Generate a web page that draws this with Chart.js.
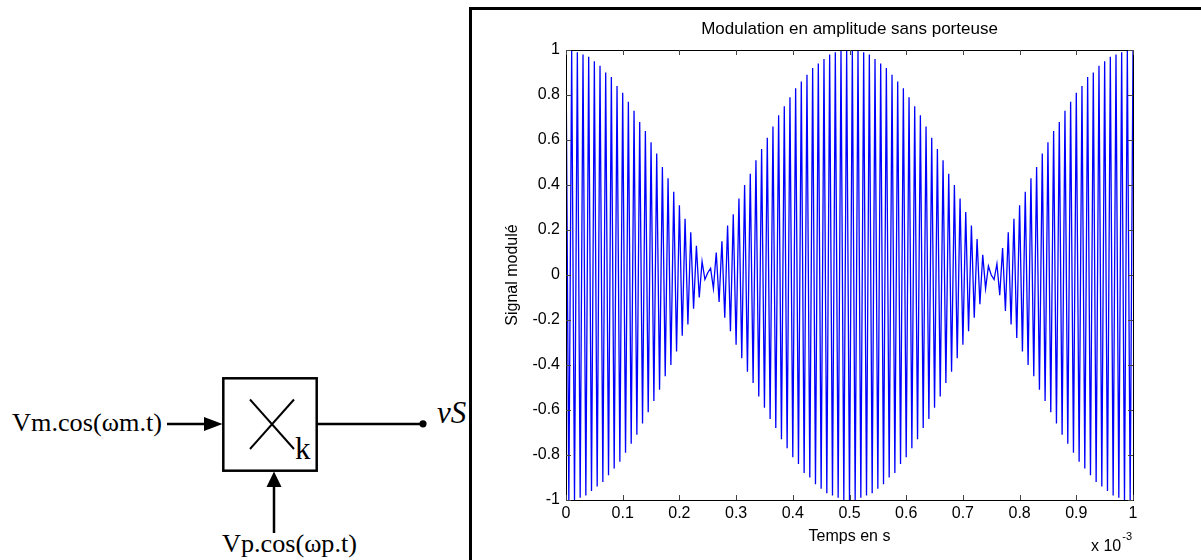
<!DOCTYPE html>
<html><head><meta charset="utf-8">
<script src="https://cdn.jsdelivr.net/npm/chart.js@4.4.0/dist/chart.umd.min.js"></script>
<style>
html,body{margin:0;padding:0;background:#fff;width:1201px;height:560px;overflow:hidden;}
#wrap{position:relative;width:1201px;height:560px;}
#diagram{position:absolute;left:0;top:0;}
#frame{position:absolute;left:469px;top:7px;right:0;bottom:0;border-left:3px solid #000;border-top:3px solid #000;}
#c{position:absolute;left:0;top:0;}
</style></head>
<body><div id="wrap">
<svg id="diagram" width="470" height="560" xmlns="http://www.w3.org/2000/svg">
  <g font-family="'Liberation Serif','Times New Roman',serif" fill="#000">
    <text x="12" y="431" font-size="26" textLength="150" lengthAdjust="spacingAndGlyphs">Vm.cos(ωm.t)</text>
    <text x="222" y="552" font-size="26" textLength="135" lengthAdjust="spacingAndGlyphs">Vp.cos(ωp.t)</text>
    <text x="295" y="459" font-size="31">k</text>
    <text x="437" y="423" font-size="31" font-style="italic">vS</text>
  </g>
  <g stroke="#000" fill="none">
    <line x1="167" y1="424" x2="207" y2="424" stroke-width="2.5"/>
    <rect x="223.3" y="378.3" width="93.4" height="92.4" stroke-width="2.5"/>
    <line x1="250" y1="399.5" x2="294" y2="449" stroke-width="2"/>
    <line x1="294" y1="399.5" x2="250" y2="449" stroke-width="2"/>
    <line x1="317" y1="424" x2="421" y2="424" stroke-width="2.5"/>
    <line x1="274" y1="533" x2="274" y2="485" stroke-width="2.5"/>
  </g>
  <g fill="#000" stroke="none">
    <polygon points="204,417 222.5,424 204,431"/>
    <polygon points="266.5,487 274,471.5 281.5,487"/>
    <circle cx="423" cy="423.8" r="3.6"/>
  </g>
</svg>
<div id="frame"></div>
<canvas id="c" width="1201" height="560"></canvas>
</div>
<script>
// ---- data ----
const chartTitle = "Modulation en amplitude sans porteuse";
const xAxisTitle = "Temps en s";
const yAxisTitle = "Signal modulé";
const xTickValues = [0, 0.1, 0.2, 0.3, 0.4, 0.5, 0.6, 0.7, 0.8, 0.9, 1];
const xTickLabels = ["0", "0.1", "0.2", "0.3", "0.4", "0.5", "0.6", "0.7", "0.8", "0.9", "1"];
const yTickValues = [1, 0.8, 0.6, 0.4, 0.2, 0, -0.2, -0.4, -0.6, -0.8, -1];
const yTickLabels = ["1", "0.8", "0.6", "0.4", "0.2", "0", "-0.2", "-0.4", "-0.6", "-0.8", "-1"];
const xExponentLabel = "x 10";
const xExponent = "-3";
// time between successive extremes (ms, i.e. x 10^-3 s)
const timeStep = 0.005;
// successive extreme values of the modulated signal (one per half carrier period)
const signalValues = [
  1.00, -1.00, 1.00, -1.00, 0.99, -0.99, 0.98, -0.98, 0.97, -0.96, 0.95,
  -0.94, 0.93, -0.92, 0.90, -0.89, 0.88, -0.86, 0.84, -0.83, 0.81,
  -0.79, 0.77, -0.75, 0.73, -0.71, 0.68, -0.66, 0.64, -0.61, 0.59,
  -0.56, 0.54, -0.51, 0.48, -0.45, 0.43, -0.40, 0.37, -0.34, 0.31,
  -0.27, 0.25, -0.22, 0.19, -0.15, 0.13, -0.10, 0.06, -0.02, 0.01,
  0.03, -0.06, 0.10, -0.12, 0.15, -0.19, 0.22, -0.25, 0.27, -0.31,
  0.34, -0.37, 0.40, -0.43, 0.45, -0.48, 0.51, -0.54, 0.56, -0.59,
  0.61, -0.64, 0.66, -0.68, 0.71, -0.73, 0.75, -0.77, 0.79, -0.81,
  0.83, -0.84, 0.86, -0.88, 0.89, -0.90, 0.92, -0.93, 0.94, -0.95,
  0.96, -0.97, 0.98, -0.98, 0.99, -0.99, 1.00, -1.00, 1.00, -1.00,
  1.00, -1.00, 1.00, -0.99, 0.99, -0.98, 0.98, -0.97, 0.96, -0.95,
  0.94, -0.93, 0.92, -0.90, 0.89, -0.88, 0.86, -0.84, 0.83, -0.81,
  0.79, -0.77, 0.75, -0.73, 0.71, -0.68, 0.66, -0.64, 0.61, -0.59,
  0.56, -0.54, 0.51, -0.48, 0.45, -0.43, 0.40, -0.37, 0.34, -0.31,
  0.28, -0.25, 0.22, -0.19, 0.16, -0.13, 0.09, -0.06, 0.04, 0.00,
  -0.02, 0.05, -0.09, 0.12, -0.16, 0.19, -0.22, 0.25, -0.28, 0.31,
  -0.34, 0.37, -0.40, 0.43, -0.45, 0.48, -0.51, 0.54, -0.56, 0.59,
  -0.61, 0.64, -0.66, 0.68, -0.71, 0.73, -0.75, 0.77, -0.79, 0.81,
  -0.83, 0.84, -0.86, 0.88, -0.89, 0.90, -0.92, 0.93, -0.94, 0.95,
  -0.96, 0.97, -0.98, 0.98, -0.99, 0.99, -1.00, 1.00, -1.00, 1.00
];

const FONT = "'Liberation Sans', Arial, Helvetica, sans-serif";
Chart.defaults.color = '#000';
Chart.defaults.font.family = FONT;

const boxPlugin = {
  id: 'matlabBox',
  afterDraw(chart) {
    const ctx = chart.ctx;
    const {left, right, top, bottom} = chart.chartArea;
    const xs = chart.scales.x, ys = chart.scales.y;
    ctx.save();
    ctx.strokeStyle = '#000';
    ctx.lineWidth = 1;
    ctx.strokeRect(Math.round(left) + 0.5, Math.round(top) + 0.5, Math.round(right - left), Math.round(bottom - top));
    ctx.strokeStyle = '#444';
    const L = 5;
    ctx.beginPath();
    xTickValues.forEach(v => {
      const px = Math.round(xs.getPixelForValue(v)) + 0.5;
      ctx.moveTo(px, bottom); ctx.lineTo(px, bottom - L);
      ctx.moveTo(px, top); ctx.lineTo(px, top + L);
    });
    yTickValues.forEach(v => {
      const py = Math.round(ys.getPixelForValue(v)) + 0.5;
      ctx.moveTo(left, py); ctx.lineTo(left + L, py);
      ctx.moveTo(right, py); ctx.lineTo(right - L, py);
    });
    ctx.stroke();
    // exponent label under the x axis
    ctx.fillStyle = '#000';
    ctx.textBaseline = 'alphabetic';
    ctx.textAlign = 'left';
    ctx.font = '16px ' + FONT;
    ctx.fillText(xExponentLabel, 1091, 551);
    const w = ctx.measureText(xExponentLabel).width;
    ctx.font = '11px ' + FONT;
    ctx.fillText(xExponent, 1091 + w + 1, 540);
    ctx.restore();
  }
};

new Chart(document.getElementById('c'), {
  type: 'line',
  data: {
    datasets: [{
      data: signalValues.map((y, i) => ({x: i * timeStep, y})),
      borderColor: '#0000ff',
      borderWidth: 1.3,
      pointRadius: 0,
      tension: 0,
      fill: false
    }]
  },
  options: {
    responsive: false,
    animation: false,
    devicePixelRatio: 1,
    layout: {padding: {left: 466, right: 68, top: 0, bottom: 0}},
    plugins: {
      legend: {display: false},
      tooltip: {enabled: false},
      title: {
        display: true,
        text: chartTitle,
        fullSize: false,
        color: '#000',
        font: {size: 17, weight: 'normal', family: FONT, lineHeight: 1.2},
        padding: {top: 18.8, bottom: 10.8}
      }
    },
    scales: {
      x: {
        type: 'linear',
        min: 0, max: 1,
        afterFit(s) { s.height = 60; },
        afterBuildTicks(s) { s.ticks = xTickValues.map(v => ({value: v})); },
        ticks: {
          color: '#000', padding: 4, maxRotation: 0, autoSkip: false,
          font: {size: 16, family: FONT},
          callback: (v, i) => xTickLabels[i]
        },
        grid: {display: false, drawTicks: false},
        border: {display: false},
        title: {display: true, text: xAxisTitle, color: '#000', font: {size: 16, family: FONT, lineHeight: 1.2}, padding: {top: 0, bottom: 13.4}}
      },
      y: {
        type: 'linear',
        min: -1, max: 1,
        afterFit(s) { s.width = 100; },
        afterBuildTicks(s) { s.ticks = yTickValues.map(v => ({value: v})); },
        ticks: {
          color: '#000', padding: 6, autoSkip: false,
          font: {size: 16, family: FONT},
          callback: (v, i) => yTickLabels[i]
        },
        grid: {display: false, drawTicks: false},
        border: {display: false},
        title: {display: true, text: yAxisTitle, color: '#000', font: {size: 16, family: FONT, lineHeight: 1.2}, padding: {top: 37.4, bottom: 0}}
      }
    }
  },
  plugins: [boxPlugin]
});
</script>
</body></html>
